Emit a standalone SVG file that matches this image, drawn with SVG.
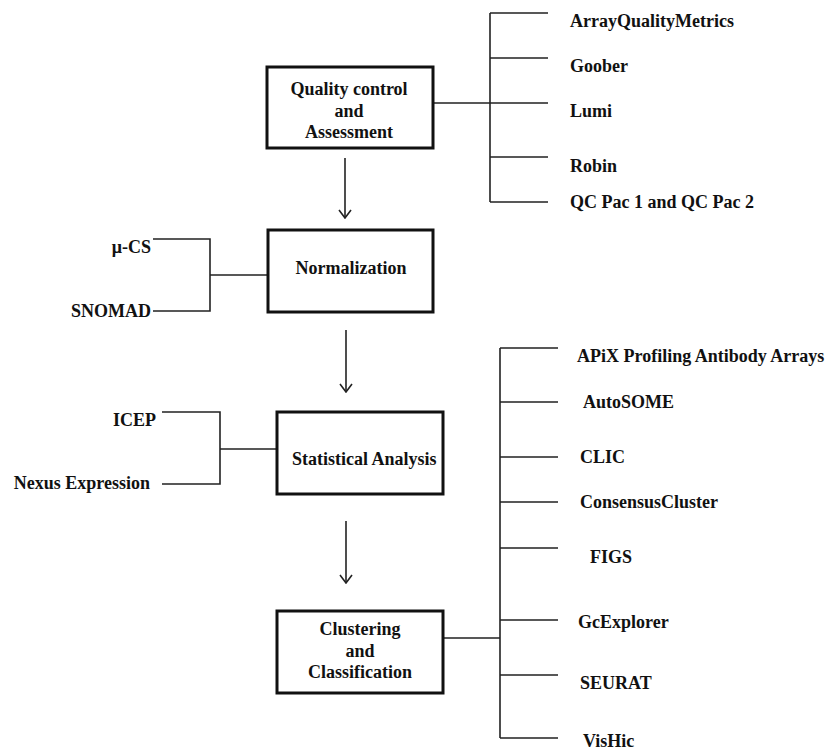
<svg xmlns="http://www.w3.org/2000/svg" width="830" height="752" viewBox="0 0 830 752">
<style>
.box{fill:#fff;stroke:#111;stroke-width:3}
.ln{fill:none;stroke:#222;stroke-width:1.6}
.t{font-family:'Liberation Serif','Times New Roman','DejaVu Serif',serif;font-weight:700;font-size:18px;fill:#111}
.c{text-anchor:middle}
.r{text-anchor:end}
</style>
<defs>
<marker id="ah" viewBox="0 0 10 14" refX="9" refY="7" markerWidth="10" markerHeight="14" markerUnits="userSpaceOnUse" orient="auto">
<path d="M1,1 L9,7 L1,13" fill="none" stroke="#222" stroke-width="1.6"/>
</marker>
</defs>
<rect width="830" height="752" fill="#fff"/>
<g id="connectors">
<line class="ln" x1="345" y1="158" x2="345" y2="218" marker-end="url(#ah)"/>
<line class="ln" x1="346" y1="330" x2="346" y2="392" marker-end="url(#ah)"/>
<line class="ln" x1="346" y1="521" x2="346" y2="583" marker-end="url(#ah)"/>
<path class="ln" d="M433,103 H490 M490,13 V202 M490,13 H548 M490,58 H548 M490,103 H548 M490,157 H548 M490,202 H548"/>
<path class="ln" d="M153,239 H210 V311 H153 M210,275 H268"/>
<path class="ln" d="M162,412 H220 V484 H162 M220,449 H277"/>
<path class="ln" d="M443,638 H500 M500,348 V738 M500,348 H558 M500,402 H558 M500,457 H558 M500,502 H558 M500,548 H558 M500,620 H558 M500,675 H558 M500,738 H558"/>
</g>
<g id="qc" class="t">
<rect class="box" x="267" y="67" width="166" height="81"/>
<text class="c" x="349" y="95">Quality control</text>
<text class="c" x="349" y="117">and</text>
<text class="c" x="349" y="138">Assessment</text>
</g>
<g id="normalization" class="t">
<rect class="box" x="268" y="230" width="165" height="82"/>
<text class="c" x="351" y="274">Normalization</text>
</g>
<g id="statistical" class="t">
<rect class="box" x="277" y="412" width="166" height="82"/>
<text x="292" y="465">Statistical Analysis</text>
</g>
<g id="clustering" class="t">
<rect class="box" x="277" y="611" width="166" height="82"/>
<text class="c" x="360" y="635">Clustering</text>
<text class="c" x="360" y="657">and</text>
<text class="c" x="360" y="678">Classification</text>
</g>
<g id="qc-tools" class="t">
<text x="570" y="27">ArrayQualityMetrics</text>
<text x="570" y="72">Goober</text>
<text x="570" y="117">Lumi</text>
<text x="570" y="172">Robin</text>
<text x="570" y="208">QC Pac 1 and QC Pac 2</text>
</g>
<g id="norm-tools" class="t">
<text class="r" x="151" y="253">μ-CS</text>
<text class="r" x="151" y="317">SNOMAD</text>
</g>
<g id="stat-tools" class="t">
<text class="r" x="156" y="426">ICEP</text>
<text class="r" x="150" y="489">Nexus Expression</text>
</g>
<g id="cluster-tools" class="t">
<text x="577" y="362">APiX Profiling Antibody Arrays</text>
<text x="583" y="408">AutoSOME</text>
<text x="580" y="463">CLIC</text>
<text x="580" y="508">ConsensusCluster</text>
<text x="590" y="563">FIGS</text>
<text x="578" y="628">GcExplorer</text>
<text x="580" y="689">SEURAT</text>
<text x="583" y="747">VisHic</text>
</g>
</svg>
